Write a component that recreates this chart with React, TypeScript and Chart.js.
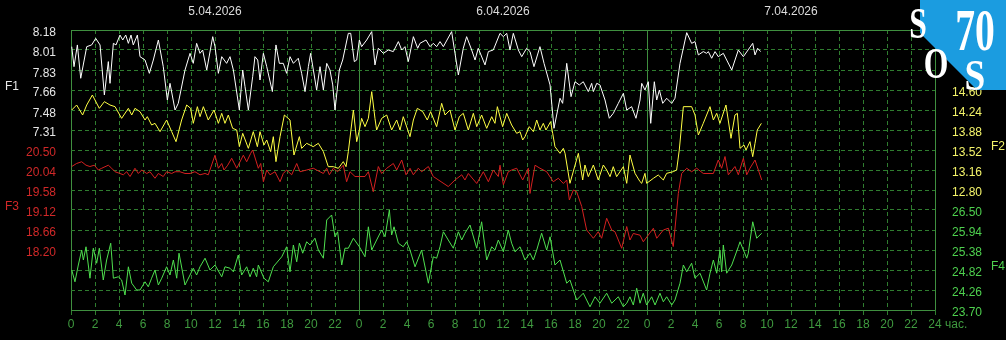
import React, { useEffect, useRef } from 'react';
import { Chart, registerables } from 'chart.js';

Chart.register(...registerables);

// ---- data ----
const dayLabels = ['5.04.2026', '6.04.2026', '7.04.2026'];
const f1Ticks = [8.18, 8.01, 7.83, 7.66, 7.48, 7.31];
const f3Ticks = [20.5, 20.04, 19.58, 19.12, 18.66, 18.2];
const f2Ticks = [14.6, 14.24, 13.88, 13.52, 13.16, 12.8];
const f4Ticks = [26.5, 25.94, 25.38, 24.82, 24.26, 23.7];
const unitLabel = 'час.';

// [hour since 5.04 00:00, value]
const f1Series = [
  [0.06,8.035],[0.25,7.861],[0.53,8.050],[0.81,7.760],[1.31,8.035],[1.72,8.050],[2.06,8.107],[2.42,8.050],[2.78,7.615],[3.11,7.905],[3.25,7.716],[3.53,8.064],[3.75,8.050],[4.08,8.136],[4.31,8.093],[4.56,8.136],[4.78,8.064],[5.00,8.136],[5.19,8.050],[5.53,8.136],[5.75,7.948],[6.17,7.919],[6.53,7.803],[6.86,7.919],[7.28,8.093],[7.69,7.861],[8.03,7.571],[8.25,7.716],[8.67,7.484],[8.94,7.542],[9.50,7.832],[9.92,7.977],[10.19,7.890],[10.47,8.064],[10.75,7.977],[10.97,8.006],[11.31,7.832],[11.81,8.122],[12.00,8.035],[12.28,7.803],[12.56,7.948],[12.97,7.890],[13.25,7.948],[13.53,7.832],[14.03,7.484],[14.31,7.832],[14.50,7.687],[14.78,7.484],[15.14,7.774],[15.33,7.948],[15.56,7.919],[15.75,7.745],[16.03,7.977],[16.31,7.861],[16.78,7.644],[17.08,8.050],[17.36,7.890],[17.69,7.890],[17.97,7.803],[18.25,7.948],[18.53,7.890],[18.94,7.934],[19.22,7.803],[19.50,7.644],[19.78,7.861],[19.97,7.977],[20.47,7.658],[20.75,7.861],[21.03,7.658],[21.31,7.890],[21.58,7.832],[21.81,7.702],[22.00,7.484],[22.36,7.832],[22.64,7.919],[23.11,8.151],[23.31,8.151],[23.61,7.905],[23.81,7.919],[24.03,8.093],
  [24.22,8.035],[24.64,8.093],[25.06,8.166],[25.33,7.876],[25.61,8.021],[26.03,7.977],[26.44,8.006],[26.86,7.992],[27.28,8.079],[27.56,8.006],[27.83,8.035],[28.11,7.905],[28.53,8.122],[28.89,8.021],[29.08,8.064],[29.58,8.093],[29.92,8.035],[30.19,8.064],[30.47,8.035],[30.75,8.079],[31.03,8.035],[31.72,8.166],[32.00,7.977],[32.28,7.789],[32.69,8.021],[32.97,8.122],[33.39,8.006],[33.67,7.919],[33.94,8.021],[34.50,7.876],[34.78,7.992],[35.19,8.006],[35.75,8.151],[36.03,8.122],[36.31,8.151],[36.58,8.006],[36.86,8.151],[37.28,8.006],[37.56,7.948],[37.97,8.021],[38.25,7.992],[38.58,7.861],[39.08,8.035],[39.42,7.890],[39.92,7.702],[40.25,7.325],[40.75,7.586],[40.97,7.542],[41.31,7.890],[41.67,7.600],[42.00,7.730],[42.36,7.702],[42.69,7.730],[43.11,7.644],[43.39,7.716],[43.53,7.644],[43.81,7.716],[44.08,7.702],[44.50,7.571],[44.86,7.412],[45.19,7.455],[45.61,7.542],[46.03,7.629],[46.31,7.484],[46.72,7.513],[47.08,7.412],[47.42,7.571],
  [47.56,7.716],[47.83,7.658],[48.11,7.730],[48.31,7.368],[48.61,7.730],[48.81,7.571],[49.03,7.658],[49.31,7.542],[49.64,7.586],[50.06,7.542],[50.33,7.586],[50.75,7.890],[51.31,8.157],[51.72,8.064],[52.00,8.079],[52.28,7.963],[52.69,7.992],[52.97,7.977],[53.11,7.992],[53.39,7.934],[53.67,7.992],[53.94,7.948],[54.36,7.977],[55.06,7.832],[55.61,8.006],[56.03,7.948],[56.81,8.064],[57.00,7.963],[57.22,8.021],[57.47,7.992],
];

const f2Series = [
  [0.06,14.24],[0.47,14.33],[0.97,14.15],[1.31,14.33],[1.78,14.51],[2.36,14.27],[2.78,14.39],[3.25,14.33],[3.67,14.30],[4.22,14.09],[4.78,14.27],[5.06,14.15],[5.33,14.27],[5.75,14.21],[6.17,14.06],[6.36,14.12],[6.72,13.97],[7.00,14.00],[7.42,13.85],[7.97,14.06],[8.39,13.85],[8.75,13.67],[9.22,14.06],[9.64,14.33],[9.97,14.27],[10.19,14.00],[10.53,14.30],[10.75,14.12],[11.03,14.30],[11.44,14.06],[11.92,14.24],[12.28,14.00],[12.56,14.18],[12.83,14.00],[13.11,14.15],[13.47,13.91],[13.81,13.88],[14.03,13.58],[14.31,13.82],[14.78,13.55],[15.19,13.85],[15.53,13.58],[15.75,13.85],[16.08,13.61],[16.31,13.70],[16.64,13.49],[16.86,13.76],[17.08,13.31],[17.42,13.76],[17.78,14.15],[18.25,14.06],[18.58,13.43],[19.03,13.76],[19.22,13.55],[19.64,13.64],[20.19,13.58],[20.61,13.64],[21.03,13.49],[21.44,13.22],[21.86,13.22],[22.28,13.19],[22.69,13.31],[22.92,13.22],[23.11,13.49],[23.53,14.24],[23.81,13.67],[24.03,13.88],
  [24.22,14.09],[24.50,13.94],[24.78,14.09],[25.06,14.57],[25.33,14.09],[25.47,13.88],[25.89,14.09],[26.31,14.15],[26.72,13.88],[27.14,14.06],[27.42,13.88],[27.69,14.12],[28.25,13.76],[28.53,14.06],[28.86,14.27],[29.31,14.21],[29.69,14.06],[29.97,14.21],[30.47,13.94],[30.89,14.36],[31.17,14.15],[31.58,14.24],[32.00,13.88],[32.36,14.12],[32.69,14.18],[33.11,13.88],[33.53,14.18],[33.81,13.94],[34.22,14.15],[34.64,13.91],[35.06,14.12],[35.33,14.00],[35.53,14.30],[35.97,13.94],[36.31,14.18],[36.72,13.97],[37.14,13.82],[37.42,13.85],[37.64,13.70],[37.83,13.76],[38.19,13.94],[38.53,13.85],[38.81,14.06],[39.08,13.88],[39.36,14.00],[39.58,13.88],[39.97,14.03],[40.14,13.82],[40.33,13.58],[40.75,13.46],[41.03,13.55],[41.17,13.46],[41.58,12.92],[42.28,13.46],[42.64,12.98],[42.83,13.25],[43.11,13.04],[43.53,13.25],[43.94,12.98],[44.36,13.25],[44.64,13.16],[44.92,13.04],[45.19,13.22],[45.47,13.04],[46.03,13.22],[46.31,12.92],[46.58,13.43],[47.00,13.10],[47.42,12.95],
  [47.56,12.92],[47.83,13.10],[47.97,12.92],[48.53,13.01],[48.94,13.07],[49.36,12.98],[49.64,13.10],[50.19,13.13],[50.47,13.16],[50.69,13.52],[51.03,14.30],[51.72,14.30],[52.00,14.15],[52.28,13.79],[52.69,14.00],[53.25,14.30],[53.53,14.06],[53.81,14.18],[54.08,14.00],[54.58,14.33],[55.00,13.73],[55.33,14.15],[55.53,14.18],[55.75,13.55],[56.08,13.61],[56.25,13.52],[56.58,13.67],[56.81,13.40],[57.00,13.64],[57.19,13.88],[57.53,14.00],
];

const f3Series = [
  [0.06,20.12],[0.47,20.19],[0.89,20.23],[1.25,20.15],[1.58,20.12],[1.94,20.15],[2.28,20.04],[2.56,20.08],[3.11,20.15],[3.39,20.08],[3.67,20.00],[4.08,19.96],[4.36,19.93],[4.64,20.00],[4.92,19.89],[5.33,20.08],[5.61,19.96],[5.89,20.04],[6.31,19.96],[6.58,20.00],[7.00,19.85],[7.28,19.96],[7.69,19.89],[7.97,20.00],[8.39,19.96],[8.67,20.00],[9.08,20.00],[9.50,19.96],[9.92,19.96],[10.33,20.00],[10.75,19.93],[11.17,19.96],[11.44,19.93],[12.00,20.38],[12.28,20.08],[12.56,20.19],[12.75,20.04],[13.06,20.15],[13.39,20.31],[13.81,20.08],[14.36,20.38],[14.64,20.23],[14.97,20.42],[15.14,20.50],[15.61,20.08],[15.81,20.19],[16.03,19.77],[16.31,20.04],[16.58,19.93],[17.00,20.00],[17.42,19.77],[17.69,19.96],[17.97,20.04],[18.39,19.93],[18.81,20.19],[19.08,20.00],[19.64,20.04],[20.19,20.08],[20.47,20.04],[21.03,19.96],[21.31,20.08],[21.53,19.93],[21.86,20.08],[22.22,20.00],[22.69,20.15],[22.97,19.77],[23.25,20.00],[23.67,19.89],[24.03,19.89],
  [24.50,19.89],[24.78,20.00],[25.19,19.54],[25.61,20.12],[25.89,19.96],[26.31,20.08],[26.86,20.19],[27.14,20.04],[27.56,20.27],[27.92,19.93],[28.25,20.08],[28.53,19.93],[28.94,20.08],[29.22,20.00],[29.78,20.12],[30.19,19.89],[31.44,19.66],[32.00,19.81],[32.56,19.93],[32.83,19.81],[33.11,19.96],[33.81,19.73],[34.36,20.00],[34.78,19.77],[35.19,20.04],[35.61,19.89],[35.75,20.15],[36.03,19.70],[36.44,20.00],[36.72,20.04],[37.14,20.08],[37.64,19.81],[38.11,20.08],[38.25,19.50],[38.67,20.15],[39.08,20.08],[39.64,20.00],[40.19,19.77],[40.61,19.85],[41.03,19.73],[41.31,19.81],[41.53,19.35],[41.86,19.58],[42.14,19.54],[42.56,19.20],[42.97,18.66],[43.53,18.47],[43.94,18.62],[44.22,18.47],[44.64,18.93],[45.06,18.66],[45.33,18.62],[45.89,18.24],[46.31,18.74],[46.58,18.43],[46.86,18.58],[47.42,18.54],
  [47.69,18.39],[48.53,18.70],[48.81,18.47],[49.36,18.66],[49.78,18.70],[50.19,18.28],[50.61,19.50],[50.89,19.96],[51.31,20.08],[51.72,20.00],[52.14,20.08],[52.69,19.96],[53.53,19.96],[53.94,20.27],[54.22,20.08],[54.50,20.35],[54.78,19.93],[55.33,20.12],[55.61,19.93],[56.03,20.31],[56.31,19.93],[56.58,20.08],[57.00,20.27],[57.56,19.81],
];

const f4Series = [
  [0.06,24.82],[0.33,24.49],[0.61,24.96],[0.89,25.38],[1.03,25.10],[1.25,25.47],[1.58,24.59],[1.86,25.43],[2.14,25.01],[2.36,25.43],[2.69,24.54],[2.97,25.10],[3.31,25.57],[3.53,24.59],[3.94,24.63],[4.22,24.54],[4.50,24.12],[4.78,24.91],[5.06,24.45],[5.47,24.26],[5.75,24.26],[6.17,24.49],[6.44,24.35],[6.72,24.59],[7.00,24.82],[7.28,24.40],[7.56,24.59],[7.97,24.91],[8.25,24.68],[8.53,25.10],[8.81,24.59],[9.00,25.29],[9.50,24.40],[9.92,24.68],[10.19,24.87],[10.47,24.68],[10.75,24.91],[11.17,25.15],[11.58,24.82],[12.00,24.96],[12.56,24.63],[12.83,24.91],[13.25,24.87],[13.53,24.77],[13.94,25.24],[14.22,24.68],[14.64,24.91],[14.92,24.63],[15.19,24.87],[15.47,24.63],[15.61,24.96],[16.08,24.59],[16.44,24.49],[16.86,24.91],[17.56,25.19],[17.97,25.47],[18.25,24.77],[18.53,25.52],[18.81,25.05],[19.03,25.57],[19.31,25.29],[19.64,25.61],[19.92,25.52],[20.33,25.71],[20.61,25.38],[21.03,25.15],[21.31,26.22],[21.72,26.36],[22.00,25.75],[22.22,25.89],[22.56,24.96],[22.83,25.43],[23.11,25.43],[23.53,25.71],[24.03,25.47],
  [24.50,25.19],[24.78,26.03],[25.06,25.38],[25.47,25.66],[25.89,25.94],[26.17,25.75],[26.53,26.50],[26.72,25.80],[26.92,26.03],[27.28,25.57],[27.69,25.47],[27.97,25.61],[28.25,25.38],[28.67,24.91],[29.22,25.38],[29.78,24.45],[30.19,25.19],[30.47,25.15],[30.75,25.47],[31.03,25.89],[31.44,25.66],[31.86,25.43],[32.28,25.89],[32.56,25.66],[32.83,25.85],[33.25,26.08],[33.81,25.43],[34.22,26.17],[34.64,25.10],[35.06,25.47],[35.33,25.38],[35.61,25.66],[36.03,25.33],[36.44,25.94],[36.72,25.57],[37.00,25.33],[37.42,25.47],[37.83,25.10],[38.25,25.29],[38.53,25.10],[38.81,25.38],[39.22,25.85],[39.64,25.38],[39.92,25.75],[40.33,24.96],[40.75,25.10],[41.31,24.45],[41.58,24.54],[42.14,23.98],[42.69,24.17],[43.25,23.79],[43.67,24.07],[44.08,23.89],[44.64,24.17],[45.06,23.89],[45.61,24.07],[46.03,23.79],[46.31,23.89],[46.58,24.07],[46.86,23.84],[47.14,24.31],[47.42,23.89],
  [47.69,24.17],[47.97,23.84],[48.39,24.07],[48.67,23.84],[49.08,24.17],[49.36,23.93],[49.64,24.07],[50.06,23.84],[50.33,23.98],[50.75,24.45],[51.03,24.96],[51.31,24.77],[51.72,25.01],[52.00,24.59],[52.42,24.73],[52.97,24.26],[53.25,24.73],[53.53,25.10],[53.81,24.73],[54.08,25.38],[54.22,24.77],[54.36,25.52],[54.64,24.73],[55.06,24.96],[55.61,25.47],[55.75,25.61],[56.31,25.15],[56.44,25.29],[56.81,26.17],[57.14,25.71],[57.56,25.85],
];

// ---- styles ----
const BG = '#000000';
const GRID_SOLID = '#3f8f3f';
const GRID_DASH = '#2f7d2f';
const AXIS_TEXT = '#3f9a3f';
const C_F1 = '#ffffff';
const C_F2 = '#ffff44';
const C_F3 = '#d42020';
const C_F4 = '#4fe04f';
const T_F1 = '#e6e6e6';
const T_F2 = '#f4f46a';
const T_F3 = '#d02828';
const T_F4 = '#4ed04e';
const LABEL_FONT = '12px "Liberation Sans", Arial, sans-serif';

const bgPlugin = {
  id: 'bg',
  beforeDraw(chart: any) {
    const ctx = chart.ctx;
    ctx.save();
    ctx.fillStyle = BG;
    ctx.fillRect(0, 0, chart.width, chart.height);
    ctx.restore();
  },
};

const labelsPlugin = {
  id: 'labels',
  afterDraw(chart: any) {
    const ctx = chart.ctx;
    const xs = chart.scales.x;
    ctx.save();
    ctx.font = LABEL_FONT;
    ctx.textBaseline = 'middle';

    const leftCol = (ticks: number[], id: string, color: string) => {
      ctx.fillStyle = color;
      ctx.textAlign = 'right';
      ticks.forEach((t) => ctx.fillText(t.toFixed(2), 56, chart.scales[id].getPixelForValue(t) + 3));
    };
    const rightCol = (ticks: number[], id: string, color: string) => {
      ctx.fillStyle = color;
      ctx.textAlign = 'left';
      ticks.forEach((t) => ctx.fillText(t.toFixed(2), 952, chart.scales[id].getPixelForValue(t) + 3));
    };
    leftCol(f1Ticks, 'yF1', T_F1);
    leftCol(f3Ticks, 'yF3', T_F3);
    rightCol(f2Ticks, 'yF2', T_F2);
    rightCol(f4Ticks, 'yF4', T_F4);

    // series names
    ctx.textAlign = 'left';
    ctx.fillStyle = T_F1; ctx.fillText('F1', 5, 87);
    ctx.fillStyle = T_F3; ctx.fillText('F3', 5, 207);
    ctx.fillStyle = T_F2; ctx.fillText('F2', 991, 147);
    ctx.fillStyle = T_F4; ctx.fillText('F4', 991, 267);

    // hour labels
    ctx.fillStyle = AXIS_TEXT;
    ctx.textAlign = 'center';
    for (let h = 0; h <= 72; h += 2) {
      const lbl = h === 72 ? '24' : String(h % 24);
      ctx.fillText(lbl, xs.getPixelForValue(h), 325);
    }
    ctx.textAlign = 'left';
    ctx.fillText(unitLabel, xs.getPixelForValue(72) + 10, 325);

    // day labels
    ctx.fillStyle = '#dcdcdc';
    ctx.textAlign = 'center';
    dayLabels.forEach((d, i) => ctx.fillText(d, xs.getPixelForValue(12 + 24 * i), 12));

    // logo
    ctx.fillStyle = '#1b9ce0';
    ctx.beginPath();
    ctx.moveTo(920, 0);
    ctx.lineTo(1006, 0);
    ctx.lineTo(1006, 90);
    ctx.lineTo(977, 90);
    ctx.lineTo(920, 33);
    ctx.closePath();
    ctx.fill();
    ctx.fillStyle = '#ffffff';
    ctx.textBaseline = 'alphabetic';
    ctx.textAlign = 'center';
    const cond = (t: string, cx: number, by: number, size: number, sx: number) => {
      ctx.save();
      ctx.translate(cx, by);
      ctx.scale(sx, 1);
      ctx.font = `bold ${size}px "Liberation Serif", "DejaVu Serif", serif`;
      ctx.fillText(t, 0, 0);
      ctx.restore();
    };
    cond('S', 918, 38, 44, 0.72);
    cond('70', 975, 50, 60, 0.66);
    cond('O', 936, 78, 44, 0.72);
    cond('S', 975, 90, 44, 0.85);
    ctx.restore();
  },
};

const hiddenAxis = (min: number, max: number, position: string) => ({
  type: 'linear' as const,
  position,
  min,
  max,
  display: false,
});

export default function App() {
  const ref = useRef<HTMLCanvasElement>(null);
  useEffect(() => {
    document.body.style.margin = '0';
    document.body.style.background = BG;
    const canvas = ref.current;
    if (!canvas) return;
    const pts = (s: number[][]) => s.map(([x, y]) => ({ x, y }));
    const line = (data: number[][], axis: string, color: string) => ({
      data: pts(data),
      yAxisID: axis,
      borderColor: color,
      backgroundColor: color,
      borderWidth: 1,
      pointRadius: 0,
      tension: 0,
      fill: false,
    });
    const chart = new Chart(canvas, {
      type: 'line',
      data: {
        datasets: [
          line(f1Series, 'yF1', C_F1),
          line(f2Series, 'yF2', C_F2),
          line(f3Series, 'yF3', C_F3),
          line(f4Series, 'yF4', C_F4),
        ],
      },
      options: {
        responsive: false,
        animation: false,
        events: [],
        layout: { padding: { left: 71, right: 71, top: 30, bottom: 30 } },
        plugins: { legend: { display: false }, tooltip: { enabled: false } },
        scales: {
          x: {
            type: 'linear',
            position: 'bottom',
            min: 0,
            max: 72,
            afterBuildTicks: (s: any) => {
              const t = [];
              for (let h = 0; h <= 72; h += 2) t.push({ value: h });
              s.ticks = t;
            },
            afterFit: (s: any) => { s.height = 0; },
            ticks: { display: false },
            grid: {
              color: (c: any) => (c.tick && c.tick.value % 24 === 0 ? GRID_SOLID : GRID_DASH),
              lineWidth: 1,
              drawTicks: true,
              tickLength: 5,
              tickColor: GRID_DASH,
            },
            border: {
              display: false,
              dash: (c: any) => (c.tick && c.tick.value % 24 === 0 ? [] : [4, 3]),
            },
          },
          yG: {
            type: 'linear',
            position: 'left',
            min: 0,
            max: 14,
            afterBuildTicks: (s: any) => {
              const t = [];
              for (let i = 0; i <= 14; i++) t.push({ value: i });
              s.ticks = t;
            },
            afterFit: (s: any) => { s.width = 0; },
            ticks: { display: false },
            grid: {
              color: (c: any) => (c.tick && (c.tick.value === 0 || c.tick.value === 14) ? GRID_SOLID : GRID_DASH),
              lineWidth: 1,
              drawTicks: false,
            },
            border: {
              display: false,
              dash: (c: any) => (c.tick && (c.tick.value === 0 || c.tick.value === 14) ? [] : [4, 3]),
            },
          },
          yF1: hiddenAxis(5.744, 8.18, 'left'),
          yF3: hiddenAxis(16.82, 23.26, 'left'),
          yF2: hiddenAxis(10.64, 15.68, 'right'),
          yF4: hiddenAxis(23.7, 31.54, 'right'),
        },
      } as any,
      plugins: [bgPlugin, labelsPlugin],
    });
    return () => chart.destroy();
  }, []);
  return <canvas ref={ref} width={1006} height={340} style={{ display: 'block' }} />;
}
